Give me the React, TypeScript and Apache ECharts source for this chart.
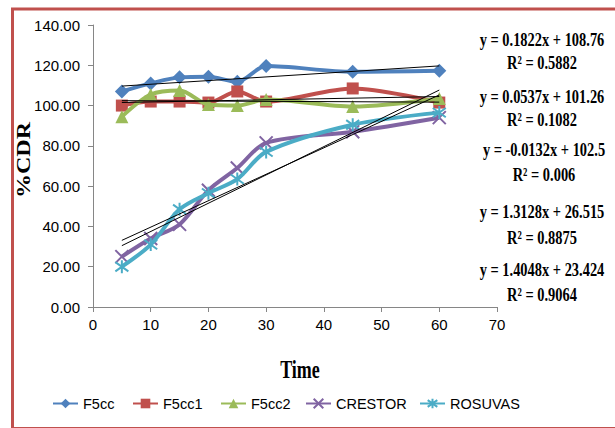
import React, { useEffect, useRef } from "react";
import * as echarts from "echarts";

const times = [5, 10, 15, 20, 25, 30, 45, 60];
const seriesNames = ["F5cc", "F5cc1", "F5cc2", "CRESTOR", "ROSUVAS"];
const f5cc = [107, 111, 114, 114.3, 111.8, 119.6, 116.8, 117.3];
const f5cc1 = [100, 102, 102, 101.5, 107, 102, 108.5, 101.5];
const f5cc2 = [94.5, 105.5, 107.5, 100.5, 100, 103, 99.5, 103.5];
const crestor = [25, 34, 41, 58, 69, 81.5, 87, 94];
const rosuvas = [20, 31, 48.5, 56.5, 63.5, 77, 90.5, 96.5];
const slopes = [0.1822, 0.0537, -0.0132, 1.3128, 1.4048];
const intercepts = [108.76, 101.26, 102.5, 26.515, 23.424];
const eqLabels = ["y = 0.1822x + 108.76", "y = 0.0537x + 101.26", "y = -0.0132x + 102.5", "y = 1.3128x + 26.515", "y = 1.4048x + 23.424"];
const r2Labels = ["R² = 0.5882", "R² = 0.1082", "R² = 0.006", "R² = 0.8875", "R² = 0.9064"];
const yTicks = [0, 20, 40, 60, 80, 100, 120, 140];
const xTicks = [0, 10, 20, 30, 40, 50, 60, 70];

const colors = ["#4F81BD", "#C0504D", "#9BBB59", "#8064A2", "#4BACC6"];
const symbols = [
  "diamond",
  "rect",
  "triangle",
  "path://M0,0L10,10M10,0L0,10",
  "path://M0,0L10,10M10,0L0,10M5,-2L5,12",
];
const symbolSizes = [14, 12, 13, 13, 13];
const legendLefts = [47, 127, 215, 300, 414];

const labelFont = "'Liberation Sans Narrow', 'Liberation Sans', sans-serif";

export default function App() {
  const ref = useRef<HTMLDivElement>(null);
  useEffect(() => {
    if (!ref.current) return;
    const chart = echarts.init(ref.current, null, { renderer: "svg" });
    const values = [f5cc, f5cc1, f5cc2, crestor, rosuvas];
    const dataSeries = values.map((v, i) => ({
      name: seriesNames[i],
      type: "line",
      smooth: 0.3,
      data: times.map((t, j) => [t, v[j]]),
      symbol: symbols[i],
      symbolSize: symbolSizes[i],
      showSymbol: true,
      lineStyle: { color: colors[i], width: 4 },
      itemStyle: {
        color: colors[i],
        borderColor: colors[i],
        borderWidth: i >= 3 ? 2 : 0,
      },
      z: 2 + i,
    }));
    const xs = [times[0], times[times.length - 1]];
    const trendSeries = slopes.map((s, i) => ({
      name: "trend" + i,
      type: "line",
      data: xs.map((x) => [x, s * x + intercepts[i]]),
      symbol: "none",
      lineStyle: { color: "#000", width: 1 },
      silent: true,
      z: 10,
    }));
    const eqY = [40, 97, 150, 212, 270];
    const r2Y = [63, 120, 175, 238, 295];
    const eqX = [542, 542, 544, 542, 542];
    const texts: any[] = [];
    eqLabels.forEach((t, i) => {
      texts.push({
        type: "text",
        x: eqX[i],
        y: eqY[i],
        scaleX: 0.76,
        style: {
          text: t,
          font: "bold 19px 'Liberation Serif', 'Times New Roman', serif",
          fill: "#000",
          textAlign: "center",
          textVerticalAlign: "middle",
        },
      });
      texts.push({
        type: "text",
        x: eqX[i],
        y: r2Y[i],
        scaleX: 0.76,
        style: {
          text: r2Labels[i],
          font: "bold 19px 'Liberation Serif', 'Times New Roman', serif",
          fill: "#000",
          textAlign: "center",
          textVerticalAlign: "middle",
        },
      });
    });
    texts.push({
      type: "text",
      x: 300,
      y: 370,
      scaleX: 0.72,
      style: {
        text: "Time",
        font: "bold 25px 'Liberation Serif', 'Times New Roman', serif",
        fill: "#000",
        textAlign: "center",
        textVerticalAlign: "middle",
      },
    });
    texts.push({
      type: "text",
      x: 24,
      y: 160,
      rotation: Math.PI / 2,
      scaleY: 0.75,
      style: {
        text: "%CDR",
        font: "bold 24px 'Liberation Serif', 'Times New Roman', serif",
        fill: "#000",
        textAlign: "center",
        textVerticalAlign: "middle",
      },
    });
    texts.push({
      type: "rect",
      shape: { x: 12.5, y: 9, width: 620, height: 419.5 },
      style: { fill: "none", stroke: "#C0504D", lineWidth: 3 },
      silent: true,
    });
    const legends = seriesNames.map((n, i) => ({
      data: [n],
      left: legendLefts[i],
      top: 391,
      itemWidth: 25,
      itemHeight: 12,
      textStyle: { fontFamily: labelFont, fontSize: 14.5, color: "#000" },
    }));
    chart.setOption({
      animation: false,
      backgroundColor: "#fff",
      grid: { left: 93, right: 118, top: 25, height: 282 },
      legend: legends,
      xAxis: {
        type: "value",
        min: xTicks[0],
        max: xTicks[xTicks.length - 1],
        interval: 10,
        splitLine: { show: false },
        axisLine: { lineStyle: { color: "#868686", width: 1 } },
        axisTick: { show: true, length: 5, lineStyle: { color: "#868686" } },
        axisLabel: { margin: 10, color: "#000", fontSize: 15, fontFamily: labelFont },
      },
      yAxis: {
        type: "value",
        min: yTicks[0],
        max: yTicks[yTicks.length - 1],
        interval: 20,
        splitLine: { show: false },
        axisLine: { show: true, lineStyle: { color: "#868686", width: 1 } },
        axisTick: { show: true, length: 5, lineStyle: { color: "#868686" } },
        axisLabel: {
          margin: 13,
          color: "#000",
          fontSize: 15,
          fontFamily: labelFont,
          formatter: (v: number) => v.toFixed(2),
        },
      },
      series: [...dataSeries, ...trendSeries],
      graphic: texts,
    });
    return () => chart.dispose();
  }, []);
  return <div ref={ref} style={{ position: "absolute", left: 0, top: 0, width: 615, height: 428 }} />;
}
